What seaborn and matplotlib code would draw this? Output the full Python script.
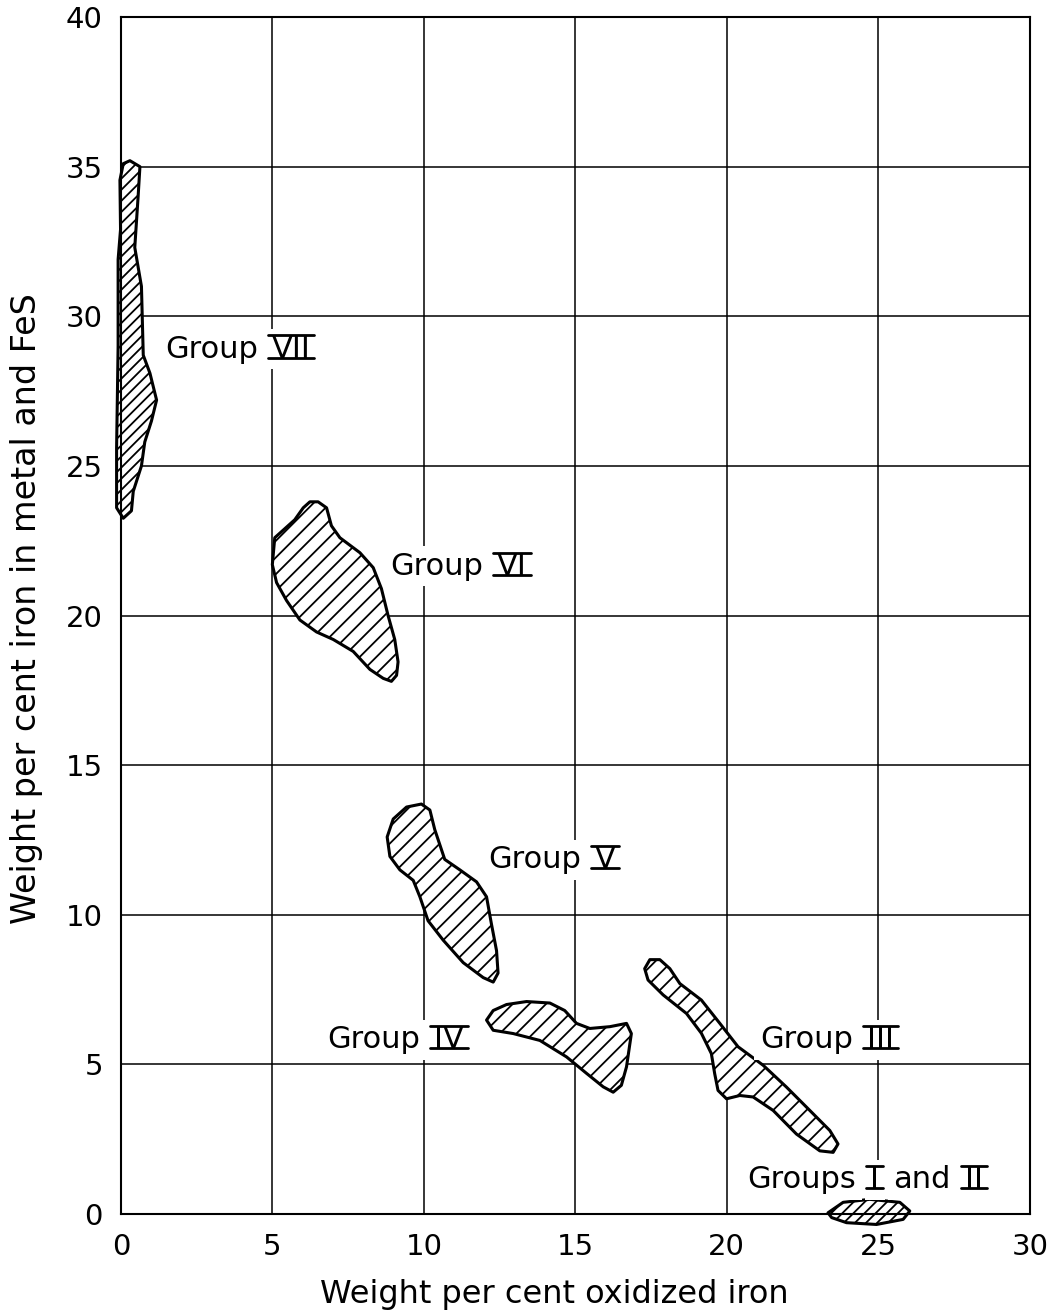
import numpy as np
import matplotlib
matplotlib.use("Agg")
import matplotlib.pyplot as plt
import seaborn as sns
from matplotlib.lines import Line2D
from matplotlib.transforms import IdentityTransform

# outlines of the hatched regions (x = oxidized Fe %, y = Fe in metal + FeS %)
g7_x = [0.30, 0.63, 0.57, 0.46, 0.68, 0.74, 0.96, 1.18, 1.01, 0.79, 0.68, 0.41, 0.35, 0.08,
        -0.14, -0.14, -0.09, -0.09, -0.01, -0.03, 0.08]
g7_y = [35.2, 35.0, 34.0, 32.3, 31.0, 28.7, 28.1, 27.2, 26.5, 25.8, 25.0, 24.15, 23.5, 23.25,
        23.6, 25.6, 29.0, 31.9, 32.9, 34.55, 35.1]

g6_x = [6.51, 6.79, 6.95, 7.23, 7.89, 8.33, 8.60, 8.82, 9.04, 9.15, 9.10, 8.93, 8.66, 8.22,
        7.67, 7.01, 6.46, 5.91, 5.47, 5.14, 5.00, 5.08, 5.41, 5.74, 6.02, 6.24]
g6_y = [23.8, 23.6, 23.0, 22.6, 22.1, 21.6, 20.9, 20.0, 19.2, 18.45, 18.0, 17.8, 17.9, 18.2,
        18.8, 19.2, 19.45, 19.85, 20.5, 21.1, 21.7, 22.6, 22.9, 23.2, 23.6, 23.8]

g5_x = [9.92, 10.20, 10.36, 10.69, 11.19, 11.74, 12.07, 12.23, 12.40, 12.45, 12.29, 11.96,
        11.30, 10.64, 10.14, 9.87, 9.65, 9.21, 8.88, 8.79, 8.99, 9.43]
g5_y = [13.7, 13.5, 12.85, 11.85, 11.5, 11.1, 10.6, 9.7, 8.8, 8.05, 7.75, 7.9,
        8.4, 9.15, 9.8, 10.6, 11.15, 11.5, 11.95, 12.6, 13.2, 13.6]

g4_x = [12.07, 12.29, 12.73, 13.39, 14.16, 14.65, 15.04, 15.48, 16.14, 16.69, 16.85, 16.69,
        16.52, 16.25, 15.92, 15.37, 14.71, 13.83, 12.95, 12.29]
g4_y = [6.48, 6.8, 7.0, 7.1, 7.05, 6.8, 6.37, 6.2, 6.26, 6.37, 6.03, 4.92,
        4.3, 4.07, 4.25, 4.7, 5.25, 5.8, 6.03, 6.14]

g3_x = [17.46, 17.79, 18.12, 18.45, 19.16, 19.77, 20.37, 21.20, 21.97, 22.74, 23.40, 23.67,
        23.51, 23.07, 22.30, 21.53, 20.87, 20.43, 19.99, 19.71, 19.60, 19.49, 19.16, 18.67,
        17.90, 17.40, 17.29]
g3_y = [8.5, 8.5, 8.2, 7.7, 7.15, 6.37, 5.59, 4.97, 4.24, 3.46, 2.79, 2.34,
        2.06, 2.11, 2.67, 3.46, 3.91, 3.96, 3.85, 4.13, 4.69, 5.36, 6.04, 6.7,
        7.32, 7.82, 8.2]

g12_x = [23.34, 23.84, 24.72, 25.71, 26.04, 25.82, 24.94, 23.95, 23.46]
g12_y = [0.04, 0.39, 0.49, 0.39, 0.1, -0.18, -0.35, -0.29, -0.12]

groups = [(g7_x, g7_y, '///'), (g6_x, g6_y, '//'), (g5_x, g5_y, '//'),
          (g4_x, g4_y, '//'), (g3_x, g3_y, '//'), (g12_x, g12_y, '///')]

# label text: (x of left edge, y, [(word, roman numeral?)])
labels = [
    (1.45, 28.9, [('Group', False), ('VII', True)]),
    (8.88, 21.64, [('Group', False), ('VI', True)]),
    (12.11, 11.84, [('Group', False), ('V', True)]),
    (6.80, 5.82, [('Group', False), ('IV', True)]),
    (21.09, 5.82, [('Group', False), ('III', True)]),
    (20.69, 1.14, [('Groups', False), ('I', True), ('and', False), ('II', True)]),
]

x_ticks = [0, 5, 10, 15, 20, 25, 30]
y_ticks = [0, 5, 10, 15, 20, 25, 30, 35, 40]

sns.set_theme(style='white')
plt.rcParams['font.family'] = ['DejaVu Sans']
plt.rcParams['text.color'] = 'black'
plt.rcParams['hatch.linewidth'] = 1.3
plt.rcParams['hatch.color'] = 'black'

FS = 22

fig = plt.figure(figsize=(10.6, 13.12), dpi=100)
ax = fig.add_axes([0.114, 0.0747, 0.8575, 0.9123])

for gx, gy, hatch in groups:
    ax.fill(gx, gy, facecolor='white', edgecolor='black', hatch=hatch,
            linewidth=2.2, joinstyle='round', clip_on=False, zorder=2)

ax.set_xlim(0, 30)
ax.set_ylim(0, 40)
ax.set_xticks(x_ticks)
ax.set_yticks(y_ticks)
ax.tick_params(axis='both', length=0, labelsize=21, colors='black')
ax.tick_params(axis='x', pad=14)
ax.tick_params(axis='y', pad=13)
ax.grid(True, color='black', linewidth=1.1)
ax.set_axisbelow(True)
for s in ax.spines.values():
    s.set_color('black')
    s.set_linewidth(1.5)

ax.set_xlabel('Weight per cent oxidized iron', fontsize=23, color='black')
ax.set_ylabel('Weight per cent iron in metal and FeS', fontsize=24, color='black')
ax.xaxis.set_label_coords(0.477, -0.054)
ax.yaxis.set_label_coords(-0.086, 0.506)

box = dict(facecolor='white', edgecolor='none', pad=4)
barred = []
for lx, ly, parts in labels:
    prev = None
    for word, roman in parts:
        if prev is None:
            t = ax.text(lx, ly, word, ha='left', va='center', fontsize=FS,
                        color='black', bbox=box, zorder=4)
        else:
            t = ax.annotate(word, xy=(1, 0.5), xycoords=prev, xytext=(10, 0),
                            textcoords='offset points', ha='left', va='center',
                            fontsize=FS, color='black', bbox=box, zorder=4)
        if roman:
            barred.append(t)
        prev = t

# roman numerals are lettered with a bar on top and bottom
fig.canvas.draw()
renderer = fig.canvas.get_renderer()
em = FS * fig.dpi / 72
for t in barred:
    bb = t.get_window_extent(renderer)
    _, _, d = renderer.get_text_width_height_descent('lp', t.get_fontproperties(), ismath=False)
    base = bb.y0 + d
    top = base + 0.729 * em
    for yy in (base, top):
        fig.add_artist(Line2D([bb.x0 - 4, bb.x1 + 4], [yy, yy], color='black',
                              linewidth=2.0, transform=IdentityTransform(), zorder=5))

fig.savefig('out.png', dpi=100, facecolor='white')
